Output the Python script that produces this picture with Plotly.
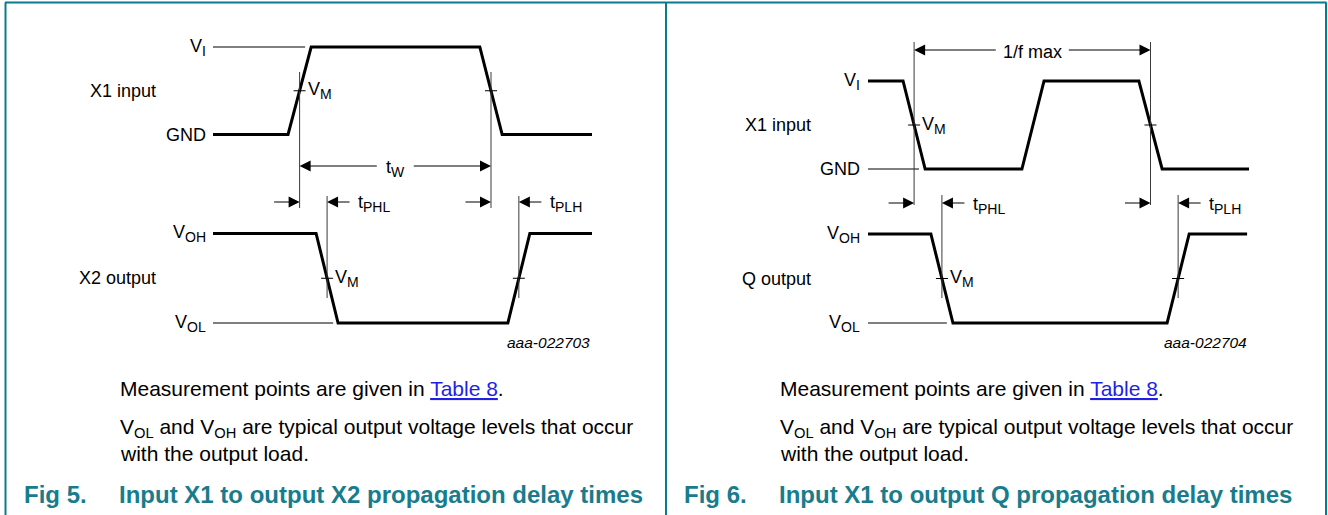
import plotly.graph_objects as go

# ---------------- data ----------------
# Time in arbitrary units (0..100 across each diagram); logic level 0 = low, 1 = high
fig5_in_t = [0, 19.8, 25.9, 70.4, 76.3, 100]
fig5_in_lv = [0, 0, 1, 1, 0, 0]
fig5_out_t = [0, 27.2, 33.0, 77.8, 83.6, 100]
fig5_out_lv = [1, 1, 0, 0, 1, 1]

fig6_in_t = [0, 9.2, 15.0, 40.4, 46.2, 71.1, 77.2, 100]
fig6_in_lv = [1, 1, 0, 0, 1, 1, 0, 0]
fig6_out_t = [0, 16.5, 22.3, 78.5, 84.3, 99.5]
fig6_out_lv = [1, 1, 0, 0, 1, 1]

# thin reference level lines: (level, end time)
fig5_in_ref = (1, 24.3)
fig5_out_ref = (0, 31.7)
fig6_in_ref = (0, 13.4)
fig6_out_ref = (0, 20.7)

# level labels [low, high]
fig5_in_levels = ["GND", "V<sub>I</sub>"]
fig5_out_levels = ["V<sub>OL</sub>", "V<sub>OH</sub>"]
fig6_in_levels = ["GND", "V<sub>I</sub>"]
fig6_out_levels = ["V<sub>OL</sub>", "V<sub>OH</sub>"]

fig5_names = ["X1 input", "X2 output"]
fig6_names = ["X1 input", "Q output"]

# which input edges are measured (edge index)
fig5_in_meas = [0, 1]
fig6_in_meas = [0, 2]

fig5_span_label = "t<sub>W</sub>"
fig6_span_label = "1/f max"
delay_labels = ["t<sub>PHL</sub>", "t<sub>PLH</sub>"]
vm_label = "V<sub>M</sub>"

fig_ids = ["aaa-022703", "aaa-022704"]
note1 = "Measurement points are given in <span style='color:#1f1fe6;text-decoration:underline'>Table 8</span>."
note2 = "V<sub>OL</sub> and V<sub>OH</sub> are typical output voltage levels that occur"
note3 = "with the output load."
fig_nums = ["Fig 5.", "Fig 6."]
fig_titles = ["Input X1 to output X2 propagation delay times",
              "Input X1 to output Q propagation delay times"]

# ---------------- layout constants (pixels) ----------------
W, H = 1328, 515
FONT = "Liberation Sans, Arial, Helvetica, sans-serif"
TEAL = "#0b7a8c"
CAPTEAL = "#187c8c"
LBL = 18
SUBPX = 14

P5 = dict(x0=213, x1=592, in_hi=47, in_lo=134.5, out_hi=233.5, out_lo=323,
          vin=(72, 208), vout=(196, 298), arrow_y=202, span_y=166, gap=17,
          name_x=158, lvl_x=208, left_text=118, cap_num=22, cap_title=117, id_y=342)
P6 = dict(x0=868, x1=1249, in_hi=81, in_lo=169, out_hi=234, out_lo=323,
          vin=(42, 205), vout=(195, 298), arrow_y=203, span_y=50, gap=35,
          name_x=813, lvl_x=862, left_text=778, cap_num=682, cap_title=777, id_y=342)


def bigsub(txt):
    return txt.replace("<sub>", "<sub><span style='font-size:%dpx'>" % SUBPX).replace(
        "</sub>", "</span></sub>")


def py(p):
    return 1 - p / H


def xrange_for(P):
    s = (P["x1"] - P["x0"]) / 100.0
    r0 = -P["x0"] / s
    return [r0, r0 + W / s], s


def yrange_for(hi, lo):
    s = lo - hi
    r0 = -(H - lo) / s
    return [r0, r0 + H / s]


def crossings(t, lv):
    out = []
    for i in range(len(t) - 1):
        if lv[i] != lv[i + 1]:
            out.append((t[i] + t[i + 1]) / 2.0)
    return out


fig = go.Figure()
shapes = []
ann = []

line_font = dict(family=FONT, size=LBL, color="black")


def panel(P, xa, ya_in, ya_out, in_t, in_lv, out_t, out_lv, in_ref, out_ref,
          in_levels, out_levels, names, in_meas, span_label, fig_id, idx):
    xr, sx = xrange_for(P)
    xref = xa
    # waveforms
    for t, lv, ya in ((in_t, in_lv, ya_in), (out_t, out_lv, ya_out)):
        fig.add_trace(go.Scatter(x=t, y=lv, mode="lines", xaxis=xa, yaxis=ya,
                                 line=dict(color="black", width=3),
                                 hoverinfo="skip", showlegend=False))
    for (lvl, tend), ya in ((in_ref, ya_in), (out_ref, ya_out)):
        fig.add_trace(go.Scatter(x=[0, tend], y=[lvl, lvl], mode="lines", xaxis=xa, yaxis=ya,
                                 line=dict(color="black", width=1.2),
                                 hoverinfo="skip", showlegend=False))
    # level labels and signal names
    for levels, ya, name in ((in_levels, ya_in, names[0]), (out_levels, ya_out, names[1])):
        for lvl, txt in enumerate(levels):
            ann.append(dict(text=bigsub(txt), xref="paper", x=P["lvl_x"] / W, yref=ya, y=lvl,
                            xanchor="right", yanchor="middle", showarrow=False, font=line_font))
        ann.append(dict(text=name, xref="paper", x=P["name_x"] / W, yref=ya, y=0.5,
                        xanchor="right", yanchor="middle", showarrow=False, font=line_font))
    # crossings
    cin_all = crossings(in_t, in_lv)
    cin = [cin_all[i] for i in in_meas]
    cout = crossings(out_t, out_lv)
    # vertical measurement lines and VM ticks
    for cs, ya, vr in ((cin, ya_in, P["vin"]), (cout, ya_out, P["vout"])):
        for k, c in enumerate(cs):
            shapes.append(dict(type="line", xref=xref, x0=c, x1=c, yref="paper",
                               y0=py(vr[0]), y1=py(vr[1]), line=dict(color="#3a3a3a", width=1)))
            shapes.append(dict(type="line", xref=xref, xsizemode="pixel", xanchor=c, x0=-6, x1=6,
                               yref=ya, y0=0.5, y1=0.5, line=dict(color="black", width=1)))
            if k == 0:
                ann.append(dict(text=bigsub(vm_label), xref=xref, x=c, xshift=6, yref=ya, y=0.5,
                                xanchor="left", yanchor="middle", showarrow=False, font=line_font))
    # span arrow (tW / 1/f max)
    a, b = cin[0], cin[-1]
    D = (b - a) * sx
    arr = dict(showarrow=True, arrowhead=2, arrowsize=2.2, arrowwidth=1, arrowcolor="black",
               standoff=0, text="", axref="pixel", ayref="pixel", ay=0, yref="paper")
    ann.append(dict(arr, xref=xref, x=a, y=py(P["span_y"]), ax=D / 2 - P["gap"]))
    ann.append(dict(arr, xref=xref, x=b, y=py(P["span_y"]), ax=-(D / 2 - P["gap"])))
    ann.append(dict(text=bigsub(span_label), xref=xref, x=(a + b) / 2, yref="paper",
                    y=py(P["span_y"] + 2), xanchor="center", yanchor="middle",
                    showarrow=False, font=line_font))
    # delay arrows
    for k in range(2):
        ci, co = (cin[0] if k == 0 else cin[-1]), cout[k]
        ann.append(dict(arr, xref=xref, x=ci, y=py(P["arrow_y"]), ax=-27))
        ann.append(dict(arr, xref=xref, x=co, y=py(P["arrow_y"]), ax=24))
        ann.append(dict(text=bigsub(delay_labels[k]), xref=xref, x=co, xshift=29, yref="paper",
                        y=py(P["arrow_y"] + 2), xanchor="left", yanchor="middle",
                        showarrow=False, font=line_font))
    # figure id
    ann.append(dict(text="<i>" + fig_id + "</i>", xref="paper", x=P["x1"] / W, yref="paper",
                    y=py(P["id_y"]), xanchor="right", yanchor="middle", showarrow=False,
                    font=dict(family=FONT, size=15.5, color="black")))
    # notes and caption
    tf = dict(family=FONT, size=21, color="black")
    for txt, yy in ((note1, 388), (note2, 428), (note3, 453)):
        ann.append(dict(text=txt, xref="paper", x=P["left_text"] / W, yref="paper", y=py(yy),
                        xanchor="left", yanchor="middle", showarrow=False, font=tf))
    cf = dict(family=FONT, size=24, color=CAPTEAL)
    ann.append(dict(text="<b>" + fig_nums[idx] + "</b>", xref="paper", x=P["cap_num"] / W,
                    yref="paper", y=py(494), xanchor="left", yanchor="middle",
                    showarrow=False, font=cf))
    ann.append(dict(text="<b>" + fig_titles[idx] + "</b>", xref="paper", x=P["cap_title"] / W,
                    yref="paper", y=py(494), xanchor="left", yanchor="middle",
                    showarrow=False, font=cf))
    return xr


xr5 = panel(P5, "x", "y", "y2", fig5_in_t, fig5_in_lv, fig5_out_t, fig5_out_lv,
            fig5_in_ref, fig5_out_ref, fig5_in_levels, fig5_out_levels, fig5_names,
            fig5_in_meas, fig5_span_label, fig_ids[0], 0)
xr6 = panel(P6, "x2", "y3", "y4", fig6_in_t, fig6_in_lv, fig6_out_t, fig6_out_lv,
            fig6_in_ref, fig6_out_ref, fig6_in_levels, fig6_out_levels, fig6_names,
            fig6_in_meas, fig6_span_label, fig_ids[1], 1)

# frame
for x0, y0, x1, y1 in ((5, 2.5, 1326.5, 2.5), (5.5, 2.5, 5.5, 515), (666, 2.5, 666, 515),
                       (1326, 2.5, 1326, 515)):
    shapes.append(dict(type="line", xref="paper", yref="paper", x0=x0 / W, x1=x1 / W,
                       y0=py(y0), y1=py(y1), line=dict(color=TEAL, width=2)))

ax_common = dict(visible=False, showgrid=False, zeroline=False, fixedrange=True)
fig.update_layout(
    width=W, height=H, margin=dict(l=0, r=0, t=0, b=0),
    paper_bgcolor="white", plot_bgcolor="white", showlegend=False,
    xaxis=dict(ax_common, range=xr5, domain=[0, 1], anchor="y"),
    xaxis2=dict(ax_common, range=xr6, overlaying="x", anchor="y"),
    yaxis=dict(ax_common, range=yrange_for(P5["in_hi"], P5["in_lo"]), domain=[0, 1], anchor="x"),
    yaxis2=dict(ax_common, range=yrange_for(P5["out_hi"], P5["out_lo"]), overlaying="y", anchor="x"),
    yaxis3=dict(ax_common, range=yrange_for(P6["in_hi"], P6["in_lo"]), overlaying="y", anchor="x"),
    yaxis4=dict(ax_common, range=yrange_for(P6["out_hi"], P6["out_lo"]), overlaying="y", anchor="x"),
    shapes=shapes, annotations=ann,
)

fig.write_html("out.html", config={"displayModeBar": False},
               post_script="document.body.style.margin='0';document.body.style.overflow='hidden';")
